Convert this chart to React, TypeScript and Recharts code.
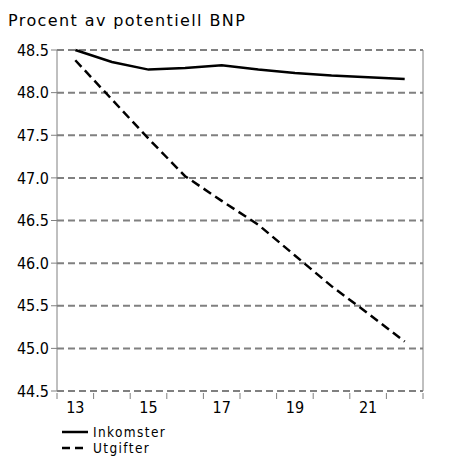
import React from 'react';
import { LineChart, Line, XAxis, YAxis, CartesianGrid, Legend } from 'recharts';

const years = [13, 14, 15, 16, 17, 18, 19, 20, 21, 22];
const inkomster = [48.5, 48.36, 48.27, 48.29, 48.32, 48.27, 48.23, 48.2, 48.18, 48.16];
const utgifter = [48.38, 47.92, 47.46, 47.02, 46.73, 46.45, 46.09, 45.73, 45.41, 45.08];
const yTicks = [44.5, 45.0, 45.5, 46.0, 46.5, 47.0, 47.5, 48.0, 48.5];
const xLabelTicks = [13, 15, 17, 19, 21];
const xBoundaryTicks = [12.5, 13.5, 14.5, 15.5, 16.5, 17.5, 18.5, 19.5, 20.5, 21.5, 22.5];

const data = years.map((y, i) => ({ year: y, inkomster: inkomster[i], utgifter: utgifter[i] }));

const FONT = '"DejaVu Sans Condensed", "DejaVu Sans", sans-serif';
const tickFont = { fill: '#000', fontSize: 16, fontFamily: FONT };

// short tick mark at each category boundary, no label
const BoundaryTick = (props: any) => (
    <line x1={props.x} x2={props.x} y1={props.y - 6} y2={props.y} stroke="#808080" strokeWidth={1} />
);

const LegendContent = () => (
    <div style={{ fontFamily: FONT, fontSize: 13.5, lineHeight: '16px', letterSpacing: 1.4, color: '#000', paddingTop: 6 }}>
        {[{ name: 'Inkomster', dash: undefined }, { name: 'Utgifter', dash: '8 5' }].map((it) => (
            <div key={it.name} style={{ display: 'flex', alignItems: 'center', height: 16 }}>
                <svg width={30} height={10} style={{ marginRight: 3 }}>
                    <line x1={2} y1={5} x2={28} y2={5} stroke="#000" strokeWidth={2.5} strokeDasharray={it.dash} />
                </svg>
                <span>{it.name}</span>
            </div>
        ))}
    </div>
);

export default function App() {
    return (
        <div style={{ position: 'absolute', left: 0, top: 0, width: 473, height: 456, background: '#fff', overflow: 'hidden' }}>
            <div style={{ position: 'absolute', left: 8, top: 13, fontFamily: '"DejaVu Sans", sans-serif', fontSize: 16, lineHeight: '16px', letterSpacing: 1.4, color: '#000', whiteSpace: 'nowrap' }}>
                Procent av potentiell BNP
            </div>
            <LineChart width={473} height={456} data={data} margin={{ top: 50, right: 0, left: 7, bottom: 0 }}>
                <CartesianGrid yAxisId="l" vertical={false} stroke="#808080" strokeWidth={2} strokeDasharray="7 4" />
                <XAxis xAxisId={0} type="number" dataKey="year" domain={[12.5, 22.5]} ticks={xBoundaryTicks}
                    tick={<BoundaryTick />} axisLine={false} tickLine={false} height={5} />
                <XAxis xAxisId="lab" type="number" dataKey="year" domain={[12.5, 22.5]} ticks={xLabelTicks}
                    tick={tickFont} axisLine={false} tickLine={false} height={22} tickMargin={0} />
                <YAxis yAxisId="l" orientation="left" domain={[44.5, 48.5]} ticks={yTicks} width={50}
                    tick={tickFont} tickFormatter={(v: number) => v.toFixed(1)} stroke="#808080" tickSize={6} tickMargin={2} />
                <YAxis yAxisId="r" orientation="right" domain={[44.5, 48.5]} ticks={yTicks} width={50}
                    tick={tickFont} tickFormatter={(v: number) => v.toFixed(1)} stroke="#808080" tickSize={6} tickMargin={2} />
                <Legend verticalAlign="bottom" align="left" content={<LegendContent />}
                    wrapperStyle={{ left: 60, width: 150, height: 38 }} />
                <Line yAxisId="l" dataKey="inkomster" stroke="#000" strokeWidth={2.5} dot={false} isAnimationActive={false} />
                <Line yAxisId="l" dataKey="utgifter" stroke="#000" strokeWidth={2.5} strokeDasharray="9 5" dot={false} isAnimationActive={false} />
            </LineChart>
        </div>
    );
}
